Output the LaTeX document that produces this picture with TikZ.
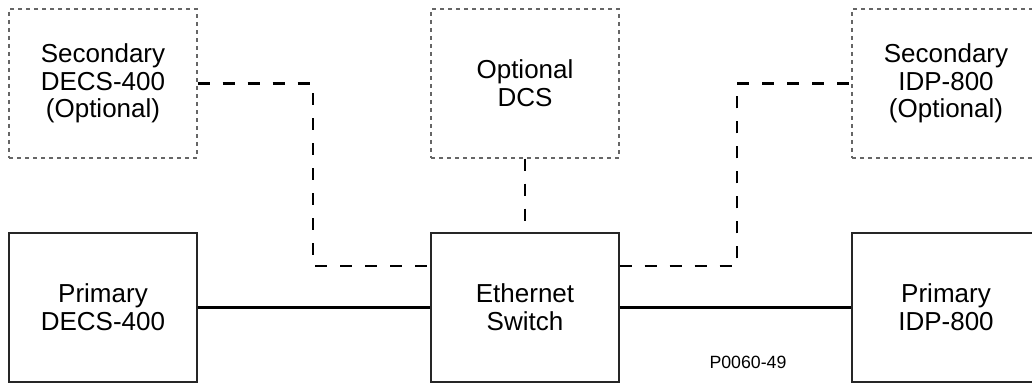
\documentclass[tikz,border=0pt]{standalone}
\usepackage{fontspec}
\setmainfont{Liberation Sans}
\usetikzlibrary{calc}

\tikzset{
	unit/.style={draw=black!85, line width=0.8pt, minimum width=141pt, minimum height=111.75pt,
		align=center, inner sep=0pt, font=\fontsize{19.5}{20.8}\selectfont},
	optunit/.style={unit, draw=black!60, dash pattern=on 3pt off 3pt},
	bus/.style={line width=1.6pt},
	optbus/.style={line width=1.6pt, dash pattern=on 9pt off 9.75pt}
}

\begin{document}
\begin{tikzpicture}[x=0.75pt, y=-0.75pt]
\useasboundingbox (0,0) rectangle (1032,384);

\node[optunit] (sdecs) at (103,83.5) {Secondary\\DECS-400\\(Optional)};
\node[optunit] (odcs) at (525,83.5) {Optional\\DCS};
\node[optunit] (sidp) at (946,83.5) {Secondary\\IDP-800\\(Optional)};

\node[unit] (pdecs) at (103,307.5) {Primary\\DECS-400};
\node[unit] (eswitch) at (525,307.5) {Ethernet\\Switch};
\node[unit] (pidp) at (946,307.5) {Primary\\IDP-800};

\node[font=\fontsize{13.3}{16}\selectfont] (fig) at (748,362) {P0060-49};

\coordinate (ljoin) at (313,266);
\coordinate (rjoin) at (737,266);

\draw[bus] (pdecs) -- (eswitch);
\draw[bus] (eswitch) -- (pidp);

\draw[optbus] (sdecs.east) -| (ljoin) -- (ljoin -| eswitch.west);
\draw[optbus] (odcs) -- (eswitch);
\draw[optbus] (eswitch.east |- rjoin) -- (rjoin) |- (sidp.west);

\end{tikzpicture}
\end{document}
